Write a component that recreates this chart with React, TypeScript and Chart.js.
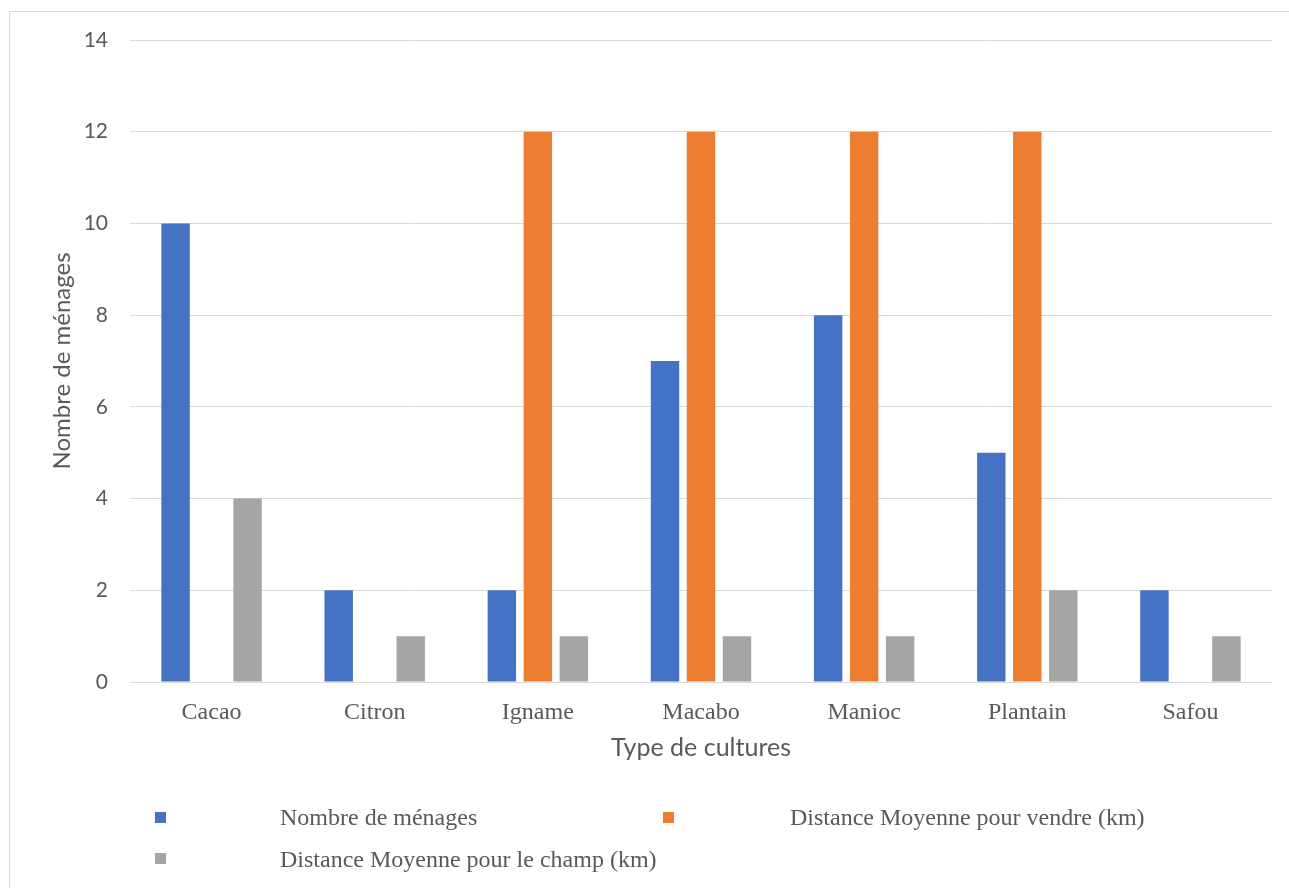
import React, { useEffect, useRef } from "react";
import { Chart, registerables } from "chart.js";

Chart.register(...registerables);

const categories = ["Cacao", "Citron", "Igname", "Macabo", "Manioc", "Plantain", "Safou"];
const menages = [10, 2, 2, 7, 8, 5, 2];
const distanceVendre = [0, 0, 12, 12, 12, 12, 0];
const distanceChamp = [4, 1, 1, 1, 1, 2, 1];

const seriesLabels = [
  "Nombre de ménages",
  "Distance Moyenne pour vendre (km)",
  "Distance Moyenne pour le champ (km)",
];
const seriesColors = ["#4472C4", "#ED7D31", "#A5A5A5"];

const SANS = "Lato, 'Open Sans', sans-serif";
const SERIF = "'Liberation Serif', 'Times New Roman', serif";
const TEXT = "#595959";

// Frame around the chart and a hand-placed legend, Office style
const framePlugin = {
  id: "officeFrame",
  beforeDraw(chart: any) {
    const ctx = chart.ctx;
    ctx.save();
    ctx.fillStyle = "#ffffff";
    ctx.fillRect(0, 0, chart.width, chart.height);
    ctx.strokeStyle = "#d9d9d9";
    ctx.lineWidth = 1;
    ctx.strokeRect(9.5, 11.5, chart.width + 20, chart.height + 20);
    ctx.restore();
  },
  afterDraw(chart: any) {
    const ctx = chart.ctx;
    const items = [
      { box: [155, 812], text: [280, 819], i: 0 },
      { box: [663, 812], text: [790, 819], i: 1 },
      { box: [155, 853], text: [280, 861], i: 2 },
    ];
    ctx.save();
    ctx.font = `24px ${SERIF}`;
    ctx.textBaseline = "middle";
    ctx.textAlign = "left";
    for (const it of items) {
      ctx.fillStyle = seriesColors[it.i];
      ctx.fillRect(it.box[0], it.box[1], 11, 11);
      ctx.fillStyle = TEXT;
      ctx.fillText(seriesLabels[it.i], it.text[0], it.text[1]);
    }
    ctx.restore();
  },
};

export default function App() {
  const ref = useRef<HTMLCanvasElement | null>(null);

  useEffect(() => {
    if (!ref.current) return;
    const chart = new Chart(ref.current, {
      type: "bar",
      data: {
        labels: categories,
        datasets: [menages, distanceVendre, distanceChamp].map((d, i) => ({
          label: seriesLabels[i],
          data: d,
          backgroundColor: seriesColors[i],
          borderWidth: 0,
          categoryPercentage: 0.662,
          barPercentage: 0.79,
        })),
      },
      options: {
        animation: false,
        responsive: false,
        maintainAspectRatio: false,
        layout: { padding: { left: 0, right: 17, top: 40, bottom: 0 } },
        plugins: {
          legend: { display: false },
          tooltip: { enabled: false },
        },
        scales: {
          x: {
            grid: { display: false, drawTicks: false },
            border: { display: false },
            ticks: {
              color: TEXT,
              font: { family: SERIF, size: 24 },
              padding: 16,
            },
            title: {
              display: true,
              text: "Type de cultures",
              color: TEXT,
              font: { family: SANS, size: 25 },
              padding: { top: 0, bottom: 125 },
            },
            afterFit(scale: any) {
              scale.height = 206;
            },
          },
          y: {
            min: 0,
            max: 14,
            ticks: {
              stepSize: 2,
              color: TEXT,
              font: { family: SANS, size: 21 },
              padding: 22,
            },
            grid: { color: "#d9d9d9", lineWidth: 1, drawTicks: false },
            border: { display: false },
            title: {
              display: true,
              text: "Nombre de ménages",
              color: TEXT,
              font: { family: SANS, size: 24 },
              padding: { top: 48, bottom: 0 },
            },
            afterFit(scale: any) {
              scale.width = 130;
            },
          },
        },
      },
      plugins: [framePlugin],
    });
    return () => chart.destroy();
  }, []);

  return (
    <div style={{ position: "absolute", left: 0, top: 0, width: 1289, height: 888 }}>
      <canvas ref={ref} width={1289} height={888} style={{ display: "block" }} />
    </div>
  );
}
